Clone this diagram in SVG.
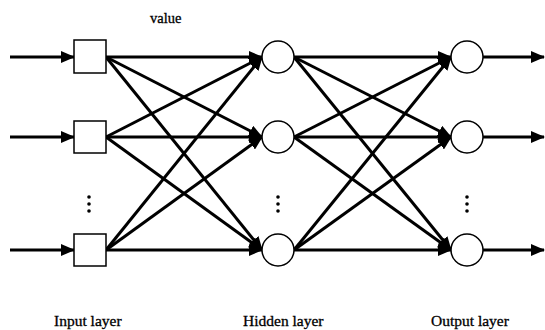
<svg xmlns="http://www.w3.org/2000/svg" width="545" height="330" viewBox="0 0 545 330">
<style>
.c{stroke:#000;stroke-width:3;fill:none}
.n{fill:#fff;stroke:#000;stroke-width:1.5}
.t{font-family:"Liberation Serif",serif;font-size:15.5px;fill:#000;stroke:#000;stroke-width:0.3}
.d{fill:#000}
</style>
<defs>
<marker id="a" markerUnits="userSpaceOnUse" markerWidth="14" markerHeight="12" refX="13" refY="6" orient="auto">
<path d="M0,0 L14,6 L0,12 Z" fill="#000"/>
</marker>
</defs>
<g id="connectors">
<line class="c" x1="10" y1="57" x2="74" y2="57" marker-end="url(#a)"/>
<line class="c" x1="10" y1="137" x2="74" y2="137" marker-end="url(#a)"/>
<line class="c" x1="10" y1="250" x2="74" y2="250" marker-end="url(#a)"/>
<line class="c" x1="106" y1="57" x2="262" y2="57" marker-end="url(#a)"/>
<line class="c" x1="106" y1="57" x2="262" y2="137" marker-end="url(#a)"/>
<line class="c" x1="106" y1="57" x2="262" y2="250" marker-end="url(#a)"/>
<line class="c" x1="106" y1="137" x2="262" y2="57" marker-end="url(#a)"/>
<line class="c" x1="106" y1="137" x2="262" y2="137" marker-end="url(#a)"/>
<line class="c" x1="106" y1="137" x2="262" y2="250" marker-end="url(#a)"/>
<line class="c" x1="106" y1="250" x2="262" y2="57" marker-end="url(#a)"/>
<line class="c" x1="106" y1="250" x2="262" y2="137" marker-end="url(#a)"/>
<line class="c" x1="106" y1="250" x2="262" y2="250" marker-end="url(#a)"/>
<line class="c" x1="294" y1="57" x2="451" y2="57" marker-end="url(#a)"/>
<line class="c" x1="294" y1="57" x2="451" y2="137" marker-end="url(#a)"/>
<line class="c" x1="294" y1="57" x2="451" y2="250" marker-end="url(#a)"/>
<line class="c" x1="294" y1="137" x2="451" y2="57" marker-end="url(#a)"/>
<line class="c" x1="294" y1="137" x2="451" y2="137" marker-end="url(#a)"/>
<line class="c" x1="294" y1="137" x2="451" y2="250" marker-end="url(#a)"/>
<line class="c" x1="294" y1="250" x2="451" y2="57" marker-end="url(#a)"/>
<line class="c" x1="294" y1="250" x2="451" y2="137" marker-end="url(#a)"/>
<line class="c" x1="294" y1="250" x2="451" y2="250" marker-end="url(#a)"/>
<line class="c" x1="483" y1="57" x2="544" y2="57" marker-end="url(#a)"/>
<line class="c" x1="483" y1="137" x2="544" y2="137" marker-end="url(#a)"/>
<line class="c" x1="483" y1="250" x2="544" y2="250" marker-end="url(#a)"/>
</g>
<g id="in1"><rect class="n" x="74" y="40" width="32" height="33"/></g>
<g id="in2"><rect class="n" x="74" y="121" width="32" height="32"/></g>
<g id="in3"><rect class="n" x="74" y="234" width="32" height="32"/></g>
<g id="h1"><circle class="n" cx="278" cy="57" r="16"/></g>
<g id="h2"><circle class="n" cx="278" cy="137" r="16"/></g>
<g id="h3"><circle class="n" cx="278" cy="250" r="16"/></g>
<g id="o1"><circle class="n" cx="467" cy="57" r="16"/></g>
<g id="o2"><circle class="n" cx="467" cy="137" r="16"/></g>
<g id="o3"><circle class="n" cx="467" cy="250" r="16"/></g>
<g id="dots">
<circle class="d" cx="89" cy="197" r="1.8"/><circle class="d" cx="89" cy="204" r="1.8"/><circle class="d" cx="89" cy="211" r="1.8"/>
<circle class="d" cx="278" cy="197" r="1.8"/><circle class="d" cx="278" cy="204" r="1.8"/><circle class="d" cx="278" cy="211" r="1.8"/>
<circle class="d" cx="467" cy="197" r="1.8"/><circle class="d" cx="467" cy="204" r="1.8"/><circle class="d" cx="467" cy="211" r="1.8"/>
</g>
<g id="labels">
<text class="t" x="150" y="23" style="font-size:14.5px">value</text>
<text class="t" x="54" y="326">Input layer</text>
<text class="t" x="243" y="326">Hidden layer</text>
<text class="t" x="431" y="326">Output layer</text>
</g>
</svg>
